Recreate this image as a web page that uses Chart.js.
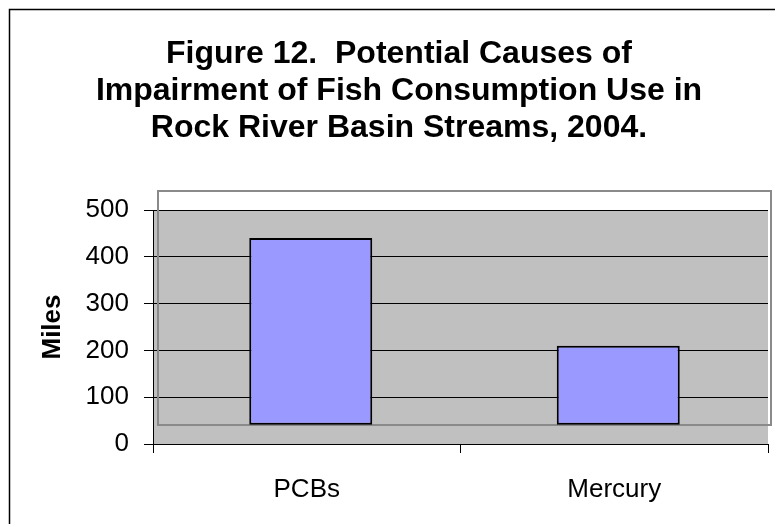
<!DOCTYPE html>
<html>
<head>
<meta charset="utf-8">
<script src="https://cdn.jsdelivr.net/npm/chart.js@4/dist/chart.umd.min.js"></script>
<style>
  html, body { margin: 0; padding: 0; background: #fff; }
  #wrap { width: 775px; height: 524px; position: relative; }
</style>
</head>
<body>
<div id="wrap"><canvas id="c" width="775" height="524"></canvas></div>
<script>
const categories = ["PCBs", "Mercury"];
const milesValues = [440, 210];
const titleLines = ["Figure 12.  Potential Causes of", "Impairment of Fish Consumption Use in", "Rock River Basin Streams, 2004."];
const yAxisTitle = "Miles";
const yTicks = [0, 100, 200, 300, 400, 500];
const floorValue = 41;

const FONT = "'Liberation Sans', Arial, Helvetica, sans-serif";

const decorPlugin = {
  id: 'decor',
  beforeDraw(chart) {
    const { ctx, chartArea: a } = chart;
    ctx.save();
    ctx.fillStyle = '#fff';
    ctx.fillRect(0, 0, chart.width, chart.height);
    ctx.fillStyle = '#C0C0C0';
    ctx.fillRect(a.left, a.top, a.right - a.left, a.bottom - a.top);
    ctx.restore();
  },
  beforeDatasetsDraw(chart) {
    const { ctx, chartArea: a } = chart;
    ctx.save();
    ctx.strokeStyle = '#8a8a8a';
    ctx.lineWidth = 2;
    ctx.strokeRect(a.left + 5, a.top - 19, a.right - a.left - 2, a.bottom - a.top);
    ctx.restore();
    ctx.save();
    ctx.translate(4, 0);
  },
  afterDatasetsDraw(chart) {
    chart.ctx.restore();
  },
  afterDraw(chart) {
    const ctx = chart.ctx;
    ctx.save();
    ctx.strokeStyle = '#000';
    ctx.lineWidth = 1.5;
    ctx.strokeRect(9.5, 9.5, 2000, 2000);
    ctx.restore();
  }
};

new Chart(document.getElementById('c'), {
  type: 'bar',
  data: {
    labels: categories,
    datasets: [{
      label: yAxisTitle,
      data: milesValues,
      base: floorValue,
      backgroundColor: '#9999FF',
      borderColor: '#000',
      borderWidth: 2,
      borderSkipped: false,
      barPercentage: 0.4,
      categoryPercentage: 1.0
    }]
  },
  options: {
    responsive: false,
    animation: false,
    devicePixelRatio: 1,
    layout: { padding: { left: 30, right: 7, top: 0, bottom: 0 } },
    plugins: {
      legend: { display: false },
      tooltip: { enabled: false },
      title: {
        display: true,
        text: titleLines,
        color: '#000',
        font: { family: FONT, size: 32, weight: 'bold', lineHeight: 37 / 32 },
        padding: { top: 36, bottom: 63 }
      }
    },
    scales: {
      x: {
        grid: { display: true, drawOnChartArea: false, offset: true, color: '#000', lineWidth: 1, tickLength: 9 },
        border: { display: true, color: '#000', width: 1 },
        ticks: { color: '#000', font: { family: FONT, size: 26 }, padding: 21 },
        afterFit(scale) { scale.height = 80; }
      },
      y: {
        min: 0,
        max: 500,
        afterBuildTicks(scale) { scale.ticks = yTicks.map(v => ({ value: v })); },
        grid: { display: true, color: '#000', lineWidth: 1, tickLength: 9 },
        border: { display: true, color: '#000', width: 1 },
        ticks: { color: '#000', font: { family: FONT, size: 26 }, padding: 15 },
        title: {
          display: true,
          text: yAxisTitle,
          color: '#000',
          font: { family: FONT, size: 26, weight: 'bold' },
          padding: { top: 7, bottom: 0 }
        },
        afterFit(scale) { scale.width = 123; }
      }
    }
  },
  plugins: [decorPlugin]
});
</script>
</body>
</html>
